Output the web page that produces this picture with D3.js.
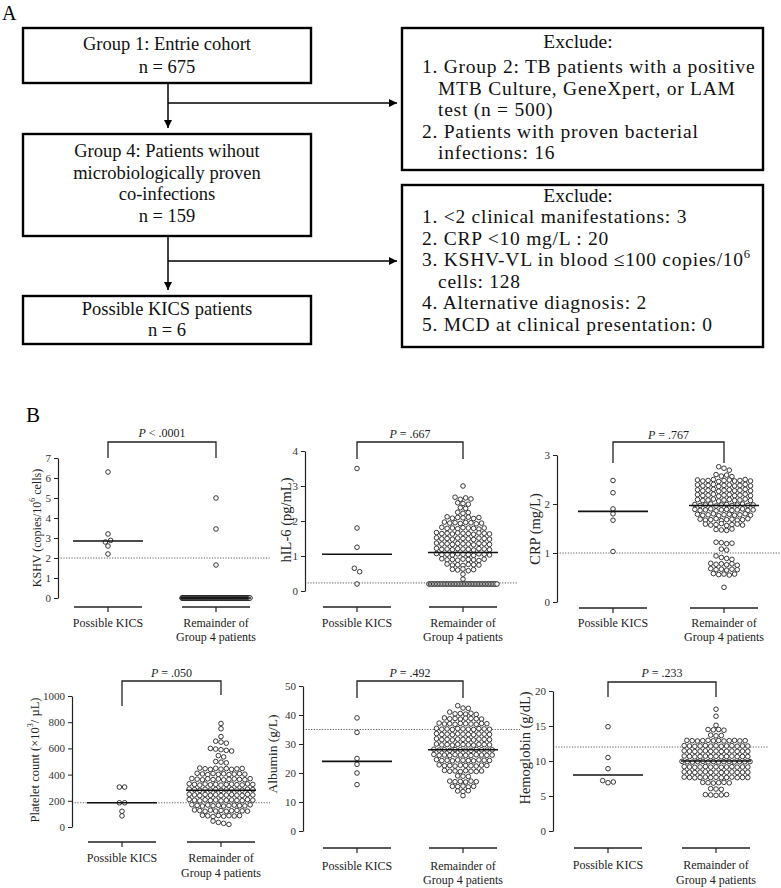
<!DOCTYPE html>
<html><head><meta charset="utf-8">
<script src="https://cdn.jsdelivr.net/npm/d3@7"></script>
<style>body{margin:0;background:#fff}svg{display:block}</style>
</head><body>
<svg id="c" width="781" height="888"></svg>
<script>
// ================= DATA =================
const flowLeftBoxes = [
  ["Group 1: Entrie cohort", "n = 675"],
  ["Group 4: Patients wihout", "microbiologically proven", "co-infections", "n = 159"],
  ["Possible KICS patients", "n = 6"]
];
const exclude1 = [
  {num: "1.", lines: ["Group 2: TB patients with a positive", "MTB Culture, GeneXpert, or LAM", "test (n = 500)"]},
  {num: "2.", lines: ["Patients with proven bacterial", "infections: 16"]}
];
const exclude2 = [
  {num: "1.", lines: ["<2 clinical manifestations: 3"]},
  {num: "2.", lines: ["CRP <10 mg/L : 20"]},
  {num: "3.", lines: ["KSHV-VL in blood \u2264100 copies/10^6", "cells: 128"]},
  {num: "4.", lines: ["Alternative diagnosis: 2"]},
  {num: "5.", lines: ["MCD at clinical presentation: 0"]}
];

const categories = ["Possible KICS", "Remainder of|Group 4 patients"];
const yLabels = ["KSHV (copies/10^6 cells)", "hIL-6 (pg/mL)", "CRP (mg/L)", "Platelet count (\u00d710^3/ \u00b5L)", "Albumin (g/L)", "Hemoglobin (g/dL)"];
const pValues = ["< .0001", "= .667", "= .767", "= .050", "= .492", "= .233"];
const medians = [[2.85, 0], [1.05, 1.1], [1.85, 1.97], [185, 280], [24, 28], [8, 10]];
const refValues = [2, 0.23, 1, 185, 35, 12];
const yTicks = [[0,1,2,3,4,5,6,7], [0,1,2,3,4], [0,1,2,3], [0,200,400,600,800,1000], [0,10,20,30,40,50], [0,5,10,15,20]];

const kshvKics = [6.3, 3.2, 2.8, 2.88, 2.6, 2.2];
const kshvRest = [5.0, 3.45, 1.65,
 0,0,0,0,0,0,0,0,0,0,0,0,0,0,0,0,0,0,0,0,0,0,0,0,0,
 0,0,0,0,0,0,0,0,0,0,0,0,0,0,0,0,0,0,0,0,0,0,0,0,0,
 0,0,0,0,0,0,0,0,0,0,0,0,0,0,0,0,0,0,0,0,0,0,0,0,0,
 0,0,0,0,0,0,0,0,0,0,0,0,0,0,0,0,0,0,0,0,0,0,0,0,0,
 0,0,0,0,0,0,0,0,0,0,0,0,0,0,0,0,0,0,0,0,0,0,0,0,0,
 0,0,0,0,0,0,0,0,0,0,0,0,0,0,0,0,0,0,0,0,0,0,0,0,0];

const il6Kics = [3.5, 1.8, 1.25, 0.65, 0.55, 0.2];
const il6Rest = [3.0,
 2.68,2.62,2.66,2.63,
 2.52,2.5,2.48,
 2.38,2.36,
 2.25,2.22,2.24,
 2.12,2.08,2.1,2.09,2.11,2.07,2.1,
 1.97,1.94,1.95,1.93,1.96,1.95,1.92,1.94,
 1.82,1.79,1.8,1.78,1.81,1.8,1.79,1.77,1.8,
 1.67,1.64,1.65,1.63,1.66,1.65,1.64,1.62,1.66,1.65,1.63,
 1.52,1.49,1.5,1.48,1.51,1.5,1.49,1.47,1.51,1.5,1.48,
 1.37,1.34,1.35,1.33,1.36,1.35,1.34,1.32,1.36,1.35,1.33,
 1.22,1.19,1.2,1.18,1.21,1.2,1.19,1.17,1.21,1.2,1.18,
 1.07,1.04,1.05,1.03,1.06,1.05,1.04,1.02,1.06,1.05,1.03,
 0.92,0.89,0.9,0.88,0.91,0.9,0.89,0.87,0.91,
 0.77,0.74,0.75,0.73,0.76,0.75,0.74,
 0.62,0.6,0.63,0.58,0.61,
 0.48, 0.34,
 0.2,0.2,0.2,0.2,0.2,0.2,0.2,0.2,0.2,0.2,0.2,0.2,0.2,0.2,0.2,
 0.2,0.2,0.2,0.2,0.2,0.2,0.2,0.2,0.2,0.2,0.2,0.2,0.2,0.2,0.2,
 0.2,0.2,0.2,0.2,0.2,0.2,0.2,0.2,0.2,0.2,0.2,0.2,0.2,0.2,0.2];

const crpKics = [2.48, 2.23, 1.9, 1.8, 1.67, 1.03];
const crpRest = [2.76,2.73,2.69,
 2.6,2.57,2.59,2.56,
 2.49,2.47,2.48,2.5,2.46,2.48,2.49,2.47,2.48,2.5,2.47,
 2.39,2.37,2.38,2.4,2.36,2.38,2.39,2.37,2.38,2.4,2.37,
 2.29,2.27,2.28,2.3,2.26,2.28,2.29,2.27,2.28,2.3,2.27,
 2.19,2.17,2.18,2.2,2.16,2.18,2.19,2.17,2.18,2.2,2.17,
 2.09,2.07,2.08,2.1,2.06,2.08,2.09,2.07,2.08,2.1,2.07,
 1.99,1.97,1.98,2.0,1.96,1.98,1.99,1.97,1.98,2.0,1.97,1.98,
 1.89,1.87,1.88,1.9,1.86,1.88,1.89,1.87,1.88,1.9,1.87,1.88,
 1.79,1.77,1.78,1.8,1.76,1.78,1.79,1.77,1.78,1.8,1.77,
 1.69,1.67,1.68,1.7,1.66,1.68,1.69,1.67,1.68,1.7,
 1.59,1.57,1.58,1.6,1.56,1.58,1.59,1.57,
 1.48,1.47,1.46,1.49,
 1.22,1.21,1.19,1.2,
 1.08,1.06,
 0.94,0.91,0.89,0.87,
 0.79,0.77,0.78,0.76,0.78,0.75,
 0.68,0.66,0.67,0.65,0.67,0.66,
 0.58,0.56,0.57,0.55,0.57,
 0.3];

const pltKics = [305, 305, 185, 185, 120, 85];
const pltRest = [790, 750, 690,
 655,648,640,
 600,595,590,585,580,
 545,535,
 500,495,490,
 450,445,440,448,442,446,440,444,447,
 410,405,400,408,402,406,400,404,407,403,
 370,365,360,368,362,366,360,364,367,363,361,369,
 330,325,320,328,322,326,320,324,327,323,321,329,325,
 290,285,280,288,282,286,280,284,287,283,281,289,285,
 250,245,240,248,242,246,240,244,247,243,241,249,245,
 210,205,200,208,202,206,200,204,207,203,201,209,205,
 170,165,160,168,162,166,160,164,167,163,161,169,
 130,125,120,128,122,126,120,124,127,123,121,
 90,85,80,88,82,86,84,87,
 45,35,28,20];

const albKics = [39, 34, 25, 23, 20, 16];
const albRest = [43.2,42.4,42.3,
 41.0,40.4,40.5,40.3,40.6,40.2,
 39.0,38.7,38.8,38.6,38.9,38.8,38.7,38.6,
 37.2,36.9,37.0,36.8,37.1,37.0,36.9,36.8,37.1,37.0,
 35.4,35.1,35.2,35.0,35.3,35.2,35.1,35.0,35.3,35.2,35.1,
 33.6,33.3,33.4,33.2,33.5,33.4,33.3,33.2,33.5,33.4,33.3,
 31.8,31.5,31.6,31.4,31.7,31.6,31.5,31.4,31.7,31.6,31.5,
 30.0,29.7,29.8,29.6,29.9,29.8,29.7,29.6,29.9,29.8,29.7,
 28.2,27.9,28.0,27.8,28.1,28.0,27.9,27.8,28.1,28.0,27.9,28.0,
 26.4,26.1,26.2,26.0,26.3,26.2,26.1,26.0,26.3,26.2,26.1,26.2,
 24.6,24.3,24.4,24.2,24.5,24.4,24.3,24.2,24.5,24.4,24.3,
 22.8,22.5,22.6,22.4,22.7,22.6,22.5,22.4,22.7,22.6,
 20.9,20.6,20.7,20.5,20.8,20.6,20.5,20.7,
 19.0,18.9,18.8,
 17.2,17.0,17.1,16.9,17.2,17.0,
 15.4,15.3,15.5,15.2,15.4,
 13.8,13.6,13.9,
 12.2];

const hbKics = [14.9, 10.5, 8.9, 7.2, 6.9, 7.0];
const hbRest = [17.4, 16.4, 15.1,
 14.5,14.45,14.5,14.4,
 13.7,13.6,13.65,
 12.95,12.9,12.85,12.9,12.95,12.88,12.92,12.86,12.9,12.94,12.87,12.9,
 12.2,12.15,12.1,12.15,12.2,12.13,12.17,12.11,12.15,12.19,12.12,12.15,12.14,
 11.45,11.4,11.35,11.4,11.45,11.38,11.42,11.36,11.4,11.44,11.37,11.4,11.39,
 10.7,10.65,10.6,10.65,10.7,10.63,10.67,10.61,10.65,10.69,10.62,10.65,10.64,
 9.95,9.9,9.85,9.9,9.95,9.88,9.92,9.86,9.9,9.94,9.87,9.9,9.89,9.91,
 9.2,9.15,9.1,9.15,9.2,9.13,9.17,9.11,9.15,9.19,9.12,9.15,9.14,
 8.45,8.4,8.35,8.4,8.45,8.38,8.42,8.36,8.4,8.44,8.37,8.4,8.39,
 7.7,7.65,7.6,7.65,7.7,7.63,7.67,7.61,7.65,7.69,7.62,7.65,7.64,
 6.95,6.9,6.85,6.9,6.95,6.88,
 6.05,6.0,5.95,
 5.2,5.15,5.1,5.15,5.2];

const groupValues = [[kshvKics, kshvRest], [il6Kics, il6Rest], [crpKics, crpRest],
                     [pltKics, pltRest], [albKics, albRest], [hbKics, hbRest]];

// ================= LAYOUT =================
const SERIF = "Liberation Serif, Times New Roman, serif";
const layout = [
  {ax:58,  yTop:458, yBot:598, cx:[108,216], segY:607, brTop:442, brBot:[458,458], pY:437, refEnd:270, labX:37,  labY:528, labFs:12,   catY:[627,641]},
  {ax:305, yTop:451, yBot:591, cx:[357,463], segY:607, brTop:442, brBot:[459,459], pY:438, refEnd:517, labX:286, labY:520, labFs:14.5, catY:[627,641]},
  {ax:557, yTop:455, yBot:602, cx:[613,724], segY:608, brTop:442, brBot:[463,463], pY:439, refEnd:780, labX:535, labY:529, labFs:14.5, catY:[627,641]},
  {ax:72,  yTop:696, yBot:827, cx:[122,221], segY:842, brTop:681, brBot:[706,695], pY:677, refEnd:270, labX:35,  labY:760, labFs:12.5, catY:[862,877]},
  {ax:303, yTop:686, yBot:831, cx:[357,463], segY:848, brTop:681, brBot:[698,698], pY:677, refEnd:520, labX:272, labY:754, labFs:13.5, catY:[870,884]},
  {ax:553, yTop:691, yBot:831, cx:[608,716], segY:848, brTop:682, brBot:[697,697], pY:677, refEnd:769, labX:525, labY:748, labFs:14.5, catY:[869,884]}
];

const svg = d3.select("#c");

function rich(t, str, fs) {
  const parts = str.split(/\^(\S)/);
  let back = false;
  parts.forEach((p, i) => {
    if (i % 2 === 1) {
      t.append("tspan").attr("dy", -fs * 0.4).attr("font-size", fs * 0.65).text(p);
      back = true;
    } else if (p !== "") {
      const s = t.append("tspan").text(p);
      if (back) { s.attr("dy", fs * 0.4); back = false; }
    }
  });
}

// ================= FLOWCHART (A) =================
const FFS = 18.5;   // left boxes
const RFS = 19.5;   // right boxes
svg.append("text").attr("x", 2).attr("y", 20).attr("font-family", SERIF).attr("font-size", 20).text("A");

svg.append("defs").append("marker").attr("id", "arr").attr("viewBox", "0 0 10 10")
  .attr("refX", 10).attr("refY", 5).attr("markerWidth", 8).attr("markerHeight", 8)
  .attr("markerUnits", "userSpaceOnUse").attr("orient", "auto")
  .append("path").attr("d", "M0,0L10,5L0,10Z").attr("fill", "#000");

const leftGeom = [
  {y:28, h:55, base:[50, 73]},
  {y:134, h:102, base:[157, 178.5, 200, 221.5]},
  {y:296, h:48, base:[315, 336]}
];
flowLeftBoxes.forEach((lines, i) => {
  const g = leftGeom[i];
  svg.append("rect").attr("x", 23).attr("y", g.y).attr("width", 288).attr("height", g.h)
    .attr("fill", "none").attr("stroke", "#000").attr("stroke-width", 2.4);
  lines.forEach((ln, j) => {
    svg.append("text").attr("x", 167).attr("y", g.base[j]).attr("text-anchor", "middle")
      .attr("font-family", SERIF).attr("font-size", FFS).attr("fill", "#111").text(ln);
  });
});

function arrowLine(x1, y1, x2, y2) {
  svg.append("line").attr("x1", x1).attr("y1", y1).attr("x2", x2).attr("y2", y2)
    .attr("stroke", "#000").attr("stroke-width", 1.5).attr("marker-end", "url(#arr)");
}
arrowLine(168, 84, 168, 128);
arrowLine(168, 103, 397, 103);
arrowLine(168, 237, 168, 290);
arrowLine(168, 261, 397, 261);

const rightGeom = [
  {y:28, h:142, head:48, y0:73, items:exclude1},
  {y:185, h:162, head:202, y0:223, items:exclude2}
];
rightGeom.forEach(b => {
  svg.append("rect").attr("x", 402).attr("y", b.y).attr("width", 361).attr("height", b.h)
    .attr("fill", "none").attr("stroke", "#000").attr("stroke-width", 2.4);
  svg.append("text").attr("x", 578).attr("y", b.head).attr("text-anchor", "middle")
    .attr("font-family", SERIF).attr("font-size", RFS).attr("fill", "#111").text("Exclude:");
  let k = 0;
  b.items.forEach(it => {
    it.lines.forEach((ln, j) => {
      const yy = b.y0 + k * 21.6;
      const t = svg.append("text").attr("x", j === 0 ? 422 : 438).attr("y", yy).attr("font-family", SERIF)
        .attr("font-size", RFS).attr("letter-spacing", 0.75).attr("fill", "#111");
      rich(t, (j === 0 ? it.num + " " : "") + ln, RFS);
      k++;
    });
  });
});

// ================= PANELS (B) =================
svg.append("text").attr("x", 26).attr("y", 422).attr("font-family", SERIF).attr("font-size", 21).text("B");

function swarm(vals, y, cx, thr, s, hw) {
  const pts = vals.map((v, i) => ({v, i, py: y(v)})).sort((a, b) => a.py - b.py || a.i - b.i);
  const rows = []; let cur = null;
  pts.forEach(p => {
    if (!cur || p.py - cur.start > thr) { cur = {start: p.py, pts: []}; rows.push(cur); }
    cur.pts.push(p);
  });
  rows.forEach(r => {
    r.pts.sort((a, b) => a.i - b.i);
    const n = r.pts.length;
    let sp = s;
    if (n > 1 && (n - 1) * sp > 2 * hw) sp = 2 * hw / (n - 1);
    r.pts.forEach((p, k) => { p.px = cx + (k - (n - 1) / 2) * sp; });
  });
  return pts;
}

layout.forEach((L, pi) => {
  const ticks = yTicks[pi];
  const y = d3.scaleLinear().domain([ticks[0], ticks[ticks.length - 1]]).range([L.yBot, L.yTop]);
  const x = d3.scalePoint().domain(categories).range(L.cx);
  const g = svg.append("g");

  // reference dotted line
  g.append("line").attr("x1", L.ax).attr("x2", L.refEnd)
    .attr("y1", y(refValues[pi])).attr("y2", y(refValues[pi]))
    .attr("stroke", "#333").attr("stroke-width", 0.8).attr("stroke-dasharray", "1.2,1.5");

  // y axis
  const axis = d3.axisLeft(y).tickValues(ticks).tickSize(4).tickSizeOuter(0).tickPadding(3).tickFormat(d3.format("d"));
  const ag = g.append("g").attr("transform", `translate(${L.ax},0)`).call(axis);
  ag.attr("font-family", SERIF).attr("font-size", 11);
  ag.select(".domain").attr("stroke", "#222").attr("stroke-width", 1.2);
  ag.selectAll(".tick line").attr("stroke", "#222").attr("stroke-width", 1);
  ag.selectAll(".tick text").attr("fill", "#333");

  // y label
  const lt = g.append("text").attr("transform", `translate(${L.labX},${L.labY}) rotate(-90)`)
    .attr("text-anchor", "middle").attr("dominant-baseline", "central")
    .attr("font-family", SERIF).attr("font-size", L.labFs).attr("fill", "#222");
  rich(lt, yLabels[pi], L.labFs);

  // x segments + category labels
  categories.forEach(c => {
    const cx = x(c);
    g.append("line").attr("x1", cx - 34).attr("x2", cx + 34).attr("y1", L.segY).attr("y2", L.segY)
      .attr("stroke", "#222").attr("stroke-width", 1.4);
    g.append("line").attr("x1", cx).attr("x2", cx).attr("y1", L.segY).attr("y2", L.segY + 5)
      .attr("stroke", "#222").attr("stroke-width", 1.2);
    c.split("|").forEach((ln, j) => {
      g.append("text").attr("x", cx).attr("y", L.catY[j]).attr("text-anchor", "middle")
        .attr("font-family", SERIF).attr("font-size", 12).attr("fill", "#222").text(ln);
    });
  });

  // dots
  groupValues[pi].forEach((vals, gi) => {
    const pts = swarm(vals, y, x(categories[gi]), 4.0, 5.3, 34);
    g.selectAll(null).data(pts).enter().append("circle")
      .attr("cx", d => d.px).attr("cy", d => d.py).attr("r", 2.3)
      .attr("fill", "#fff").attr("stroke", "#222").attr("stroke-width", 0.9);
  });

  // medians
  medians[pi].forEach((m, gi) => {
    const cx = x(categories[gi]);
    g.append("line").attr("x1", cx - 35).attr("x2", cx + 35).attr("y1", y(m)).attr("y2", y(m))
      .attr("stroke", "#111").attr("stroke-width", 1.6);
  });

  // bracket
  const [x1, x2] = L.cx;
  g.append("path").attr("d", `M${x1},${L.brBot[0]}V${L.brTop}H${x2}V${L.brBot[1]}`)
    .attr("fill", "none").attr("stroke", "#222").attr("stroke-width", 1.3);
  const pt = g.append("text").attr("x", (x1 + x2) / 2).attr("y", L.pY).attr("text-anchor", "middle")
    .attr("font-family", SERIF).attr("font-size", 12).attr("fill", "#222");
  pt.append("tspan").attr("font-style", "italic").text("P");
  pt.append("tspan").text(" " + pValues[pi]);
});
</script>
</body></html>
